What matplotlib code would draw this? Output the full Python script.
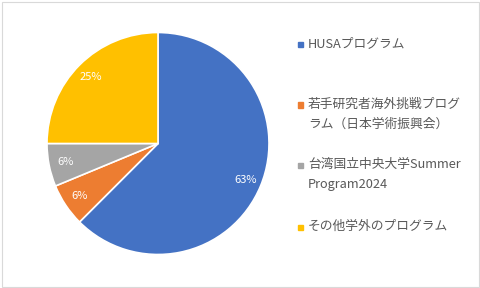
import matplotlib.pyplot as plt
from matplotlib.patches import Rectangle

plt.rcParams['font.family'] = ['Noto Sans CJK JP', 'DejaVu Sans']

# data
labels = ['HUSAプログラム',
          '若手研究者海外挑戦プログ\nラム（日本学術振興会）',
          '台湾国立中央大学Summer\nProgram2024',
          'その他学外のプログラム']
counts = [10, 1, 1, 4]
colors = ['#4472C4', '#ED7D31', '#A5A5A5', '#FFC000']

W, H = 480, 288
fig = plt.figure(figsize=(4.8, 2.88), dpi=100)

# chart area border
fig.patches.append(Rectangle((1.5 / W, 1.5 / H), (W - 3) / W, (H - 3) / H,
                             transform=fig.transFigure, fill=False,
                             edgecolor='#D9D9D9', linewidth=0.8, figure=fig))

# pie axes: centre ~ (158, 143.5) px, radius ~111 px
ax = fig.add_axes([(158 - 111) / W, (H - 143.5 - 111) / H, 222 / W, 222 / H])

wedges, texts, autotexts = ax.pie(
    counts, colors=colors, startangle=90, counterclock=False,
    autopct=lambda p: '%d%%' % int(p + 0.5), pctdistance=0.85,
    wedgeprops=dict(edgecolor='white', linewidth=1.2),
    textprops=dict(color='white', fontsize=8))
ax.set_xlim(-1, 1)
ax.set_ylim(-1, 1)
ax.axis('off')

# legend drawn by hand (Excel-like spacing)
leg_y = [44.5, 105, 165, 227]   # pixel row of first line of each entry
for lab, col, y in zip(labels, colors, leg_y):
    fig.patches.append(Rectangle((298 / W, (H - y - 2.5) / H), 5 / W, 5 / H,
                                 transform=fig.transFigure, color=col, figure=fig))
    fig.text(308 / W, (H - y + 7) / H, lab, fontsize=9.2, color='#595959',
             ha='left', va='top', linespacing=1.7)

fig.savefig('out.png', dpi=100)
